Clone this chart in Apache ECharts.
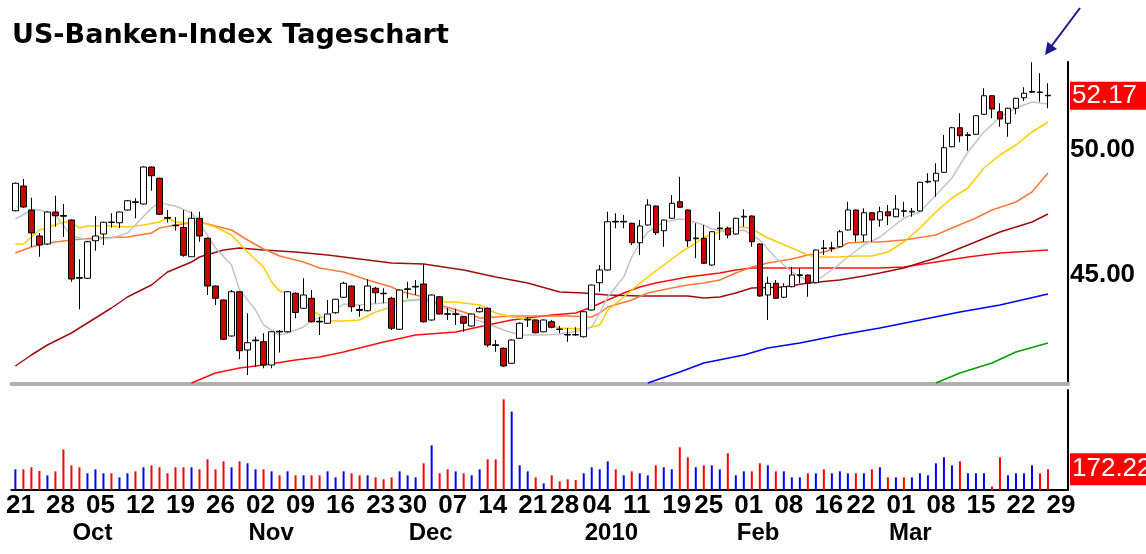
<!DOCTYPE html>
<html>
<head>
<meta charset="utf-8">
<script src="https://cdn.jsdelivr.net/npm/echarts@6/dist/echarts.min.js"></script>
<style>html,body{margin:0;padding:0;background:#fff;}#c{width:1146px;height:554px;}</style>
</head>
<body>
<div id="c"></div>
<script>
const dates = [
'2009-09-21','2009-09-22','2009-09-23','2009-09-24','2009-09-25','2009-09-28','2009-09-29','2009-09-30',
'2009-10-01','2009-10-02','2009-10-05','2009-10-06','2009-10-07','2009-10-08','2009-10-09','2009-10-12','2009-10-13','2009-10-14','2009-10-15','2009-10-16','2009-10-19','2009-10-20','2009-10-21','2009-10-22','2009-10-23','2009-10-26','2009-10-27','2009-10-28','2009-10-29','2009-10-30',
'2009-11-02','2009-11-03','2009-11-04','2009-11-05','2009-11-06','2009-11-09','2009-11-10','2009-11-11','2009-11-12','2009-11-13','2009-11-16','2009-11-17','2009-11-18','2009-11-19','2009-11-20','2009-11-23','2009-11-24','2009-11-25','2009-11-27','2009-11-30',
'2009-12-01','2009-12-02','2009-12-03','2009-12-04','2009-12-07','2009-12-08','2009-12-09','2009-12-10','2009-12-11','2009-12-14','2009-12-15','2009-12-16','2009-12-17','2009-12-18','2009-12-21','2009-12-22','2009-12-23','2009-12-24','2009-12-28','2009-12-29','2009-12-30','2009-12-31',
'2010-01-04','2010-01-05','2010-01-06','2010-01-07','2010-01-08','2010-01-11','2010-01-12','2010-01-13','2010-01-14','2010-01-15','2010-01-19','2010-01-20','2010-01-21','2010-01-22','2010-01-25','2010-01-26','2010-01-27','2010-01-28','2010-01-29',
'2010-02-01','2010-02-02','2010-02-03','2010-02-04','2010-02-05','2010-02-08','2010-02-09','2010-02-10','2010-02-11','2010-02-12','2010-02-16','2010-02-17','2010-02-18','2010-02-19','2010-02-22','2010-02-23','2010-02-24','2010-02-25','2010-02-26',
'2010-03-01','2010-03-02','2010-03-03','2010-03-04','2010-03-05','2010-03-08','2010-03-09','2010-03-10','2010-03-11','2010-03-12','2010-03-15','2010-03-16','2010-03-17','2010-03-18','2010-03-19','2010-03-22','2010-03-23','2010-03-24','2010-03-25','2010-03-26','2010-03-29','2010-03-30'
];

const opens = [47.57,48.56,47.6,46.56,46.24,47.52,47.38,47.2,44.9,44.87,
46.37,46.64,47.12,47.09,47.6,47.93,47.84,49.32,48.87,47.3,
46.99,46.9,45.73,47.27,46.47,44.56,44.0,42.56,44.33,42.0,
42.37,42.33,41.4,42.75,42.73,44.27,43.67,44.07,43.15,43.07,
43.49,44.11,44.56,43.62,43.57,44.47,44.27,44.07,42.83,44.42,
44.52,44.64,43.2,44.13,43.45,43.42,43.33,42.96,43.53,43.67,
42.21,42.07,41.47,42.47,43.2,43.2,42.73,43.13,42.84,42.62,
42.62,42.53,43.6,44.69,45.2,47.15,47.12,47.07,46.29,47.0,
47.76,46.77,47.27,47.93,47.6,46.45,46.47,45.4,46.85,46.87,
46.64,47.32,47.36,46.24,44.2,44.67,44.11,44.53,44.98,45.0,
44.69,46.08,46.06,46.13,46.8,47.6,46.6,47.49,47.2,47.53,
47.33,47.57,47.52,47.56,48.72,48.76,49.11,50.13,50.89,50.58,
50.63,51.43,52.17,51.53,51.07,51.67,52.09,52.31,52.32,52.19];

const closes = [48.67,47.72,46.68,46.2,47.52,47.37,47.35,44.84,44.87,46.33,
46.56,47.11,47.1,47.52,47.97,47.9,49.32,48.97,47.43,47.27,
46.97,45.79,47.27,46.56,44.56,44.07,42.43,44.33,41.97,42.29,
42.4,41.4,42.73,42.72,44.33,43.5,44.2,43.13,43.12,43.44,
44.03,44.67,43.73,43.58,44.56,44.29,44.25,42.87,44.4,44.45,
44.55,43.13,44.2,43.44,43.43,43.45,43.07,43.44,43.67,42.2,
42.18,41.36,42.4,43.07,43.23,42.69,43.2,42.91,42.82,42.6,
42.6,43.53,44.6,45.2,47.13,47.12,47.15,46.29,46.96,47.8,
46.69,47.2,47.87,47.71,46.37,46.48,45.47,46.73,46.88,46.6,
47.27,47.35,46.33,44.16,44.67,44.07,44.53,45.0,45.01,44.67,
46.0,46.06,46.09,46.73,47.6,46.6,47.49,47.2,47.53,47.37,
47.64,47.55,47.55,48.71,48.75,49.07,50.09,50.89,50.57,50.61,
51.37,52.17,51.64,51.24,51.67,52.07,52.27,52.34,52.3,52.17];

const lows = [47.55,47.68,46.12,45.73,46.2,46.93,46.52,44.73,43.63,44.85,
45.97,46.2,46.9,46.88,47.58,47.27,47.82,48.37,47.4,47.1,
46.77,45.73,45.72,46.33,44.2,43.8,42.4,42.54,41.63,41.0,
41.33,41.27,41.27,41.9,42.7,43.27,43.65,43.1,42.6,43.05,
43.45,44.09,43.53,43.33,43.55,43.87,43.87,42.8,42.8,44.07,
44.2,43.1,43.18,43.42,43.2,43.0,42.73,42.94,43.5,42.12,
41.93,41.33,41.45,42.45,42.92,42.67,42.71,42.87,42.67,42.33,
42.58,42.5,43.58,44.33,45.18,46.87,46.87,46.2,45.8,46.98,
46.6,46.13,47.25,47.69,46.13,45.67,45.45,45.38,46.4,46.47,
46.62,46.93,46.13,44.14,43.2,44.05,44.07,44.51,44.67,44.13,
44.67,45.8,45.93,46.11,46.78,46.33,46.33,46.33,46.93,47.0,
47.31,47.33,47.33,47.54,48.67,48.13,49.09,50.11,50.31,49.97,
50.61,51.41,51.27,50.93,50.53,51.43,51.96,52.29,51.93,51.67];

const highs = [48.7,48.84,48.09,46.68,47.55,48.17,47.84,47.22,45.63,46.35,
47.36,47.13,47.47,47.54,48.0,48.07,49.34,49.34,48.9,47.6,
47.32,47.6,47.53,47.53,46.5,44.58,44.02,44.4,44.35,43.47,
42.53,42.67,42.75,42.8,44.35,44.3,44.87,44.4,43.33,44.0,
44.05,44.73,44.58,43.8,44.83,44.53,44.47,44.13,44.43,44.73,
44.8,45.44,44.22,44.15,43.68,43.65,43.35,43.46,43.73,43.7,
42.4,42.1,42.43,43.1,43.32,43.22,43.22,43.2,42.96,42.88,
42.91,43.55,44.62,45.4,47.53,47.47,47.4,47.09,47.2,48.03,
47.78,47.22,48.2,48.93,47.62,47.07,47.0,46.75,47.53,46.93,
47.29,47.63,47.38,46.26,44.93,44.8,44.67,45.33,45.27,45.02,
46.02,46.4,46.33,46.8,47.93,47.62,47.67,47.51,47.73,47.8,
48.2,47.93,47.68,48.73,49.07,49.47,50.6,50.93,51.47,50.71,
51.39,52.47,52.19,51.87,51.69,52.09,52.51,53.51,53.07,52.67];

const volumes = [172,172,189,158,122,155,338,205,189,139,
172,139,139,105,139,155,189,205,189,139,
189,189,189,172,255,172,238,189,238,222,
172,172,155,122,155,122,122,122,122,155,
105,155,139,122,122,105,89,105,155,122,
105,222,372,139,172,155,139,122,172,255,
255,754,652,205,155,105,55,122,72,89,
83,139,189,172,238,172,122,155,139,122,
205,189,172,355,272,189,205,205,172,305,
122,155,155,222,205,155,155,105,105,139,
139,172,139,155,139,139,139,172,189,105,
105,105,105,139,122,222,272,205,238,139,
139,139,28,272,122,139,139,205,139,172.22];

// moving average lines: [day index, value]
const maGray = [[0,47.24],[2,47.6],[3,47.6],[5,47.4],[7,46.56],[9,46.4],[12,46.48],[14,46.68],[15,47.0],[17,47.68],[18,47.88],[20,47.76],[22,47.48],[23,47.08],[25,46.08],[27,45.4],[28,44.4],[30,43.6],[31,43.0],[33,42.6],[34,42.68],[36,42.92],[37,43.2],[39,43.36],[40,43.6],[41,43.84],[43,43.8],[46,43.88],[48,43.96],[51,44.0],[53,43.76],[56,43.36],[58,43.16],[61,42.8],[63,42.6],[66,42.6],[68,42.64],[71,42.8],[72,42.92],[73,43.48],[74,44.12],[76,44.92],[77,45.72],[78,46.28],[79,46.72],[81,47.12],[83,47.24],[84,47.2],[86,47.0],[87,46.84],[89,46.72],[91,46.8],[93,46.4],[95,45.68],[97,45.12],[99,44.76],[100,44.76],[102,45.2],[104,45.72],[106,46.2],[108,46.52],[111,47.28],[113,47.52],[115,48.2],[117,48.88],[119,49.92],[121,50.72],[123,51.32],[125,51.68],[127,51.92],[129,51.84]];
const maYellow = [[0,46.24],[1,46.24],[2,46.52],[3,46.8],[6,47.12],[7,47.12],[8,46.88],[9,46.96],[12,46.96],[14,46.92],[16,47.0],[18,47.12],[19,47.28],[20,47.12],[22,47.08],[23,47.12],[25,46.92],[27,46.6],[29,45.92],[31,45.32],[32,44.72],[33,44.36],[34,44.28],[36,44.0],[37,43.6],[38,43.4],[39,43.16],[41,43.16],[43,43.2],[45,43.52],[47,43.72],[49,44.0],[51,44.04],[53,43.92],[55,43.92],[58,43.8],[60,43.48],[62,43.32],[65,43.2],[68,42.88],[71,42.84],[73,43.0],[74,43.6],[76,44.12],[77,44.4],[79,44.92],[81,45.4],[83,45.88],[85,46.28],[86,46.52],[88,46.72],[89,46.88],[91,46.92],[92,46.84],[94,46.48],[97,46.08],[99,45.8],[100,45.72],[103,45.72],[105,45.76],[107,45.76],[109,45.92],[111,46.32],[113,46.88],[115,47.52],[117,48.08],[119,48.48],[121,49.28],[123,49.8],[125,50.2],[127,50.72],[129,51.12]];
const maOrange = [[0,45.88],[2,46.12],[4,46.28],[7,46.4],[10,46.48],[14,46.52],[17,46.68],[18,46.88],[20,47.0],[23,47.12],[25,46.96],[27,46.8],[29,46.4],[31,46.04],[33,45.76],[36,45.52],[38,45.28],[41,45.12],[44,44.8],[47,44.52],[48,44.36],[51,44.12],[53,43.8],[56,43.52],[58,43.28],[60,43.32],[62,43.36],[66,43.36],[69,43.36],[72,43.32],[73,43.48],[74,43.72],[77,44.0],[79,44.28],[82,44.48],[84,44.6],[86,44.68],[88,44.8],[90,45.08],[92,45.32],[94,45.48],[97,45.64],[99,45.8],[101,45.92],[103,46.12],[104,46.28],[106,46.32],[108,46.32],[111,46.4],[115,46.6],[117,46.88],[120,47.28],[122,47.6],[125,47.92],[127,48.32],[129,49.08]];
const maMaroon = [[0,41.36],[2,41.8],[4,42.2],[7,42.68],[9,43.08],[12,43.68],[14,44.12],[17,44.6],[19,45.12],[22,45.52],[23,45.72],[26,46.0],[28,46.08],[31,46.0],[35,45.92],[39,45.8],[43,45.64],[47,45.48],[51,45.44],[56,45.2],[60,44.92],[64,44.68],[68,44.32],[71,44.28],[74,44.2],[78,44.16],[84,44.16],[86,44.08],[88,44.12],[90,44.28],[92,44.48],[96,44.52],[99,44.68],[103,44.8],[106,44.96],[108,45.08],[111,45.28],[115,45.68],[119,46.2],[123,46.72],[127,47.12],[129,47.44]];
const maRed = [[22,40.68],[25,41.08],[28,41.28],[31,41.4],[35,41.6],[38,41.72],[41,41.92],[43,42.08],[46,42.32],[50,42.6],[55,42.72],[59,43.0],[62,43.2],[65,43.32],[67,43.4],[70,43.48],[72,43.72],[74,44.0],[76,44.28],[78,44.52],[80,44.68],[82,44.8],[84,44.92],[88,45.08],[90,45.2],[92,45.28],[97,45.28],[103,45.28],[108,45.28],[111,45.32],[115,45.52],[119,45.72],[123,45.88],[127,45.96],[129,46.0]];
const maBlue = [[79,40.68],[83,41.12],[86,41.48],[91,41.8],[94,42.08],[98,42.28],[103,42.6],[108,42.88],[113,43.2],[118,43.52],[123,43.8],[129,44.24]];
const maGreen = [[115,40.68],[118,41.08],[122,41.48],[125,41.92],[129,42.28]];

const dayLabelIdx = [0,5,10,15,20,25,30,35,40,45,49,54,59,64,68,72,77,82,86,91,96,101,105,110,115,120,125,130];
const monthLabels = ['Oct','Nov','Dec','2010','Feb','Mar'];
const monthStartIdx = [8,30,50,72,91,110];
const priceTicks = [45, 50];

const lastClose = closes[closes.length - 1];
const lastVolume = volumes[volumes.length - 1];
const monthPos = monthStartIdx.map(i => i - 0.875);
const candleData = opens.map((o, i) => [o, closes[i], lows[i], highs[i]]);
const daySet = new Set(dayLabelIdx);

const numFont = 'Liberation Sans';
function maSeries(name, data, color) {
  return {name, type: 'line', xAxisIndex: 0, yAxisIndex: 0, data, symbol: 'none', z: 2,
    lineStyle: {color, width: 1.5}, silent: true};
}
function lastValueMark(value, pad) {
  return {symbol: 'none', silent: true, animation: false,
    lineStyle: {color: 'rgba(0,0,0,0)', width: 0},
    label: {show: true, position: 'end', distance: 2, formatter: () => value.toFixed(2),
      backgroundColor: '#ff0000', color: '#ffffff', fontFamily: numFont, fontSize: 26,
      padding: pad},
    data: [{yAxis: value}]};
}

const chart = echarts.init(document.getElementById('c'), null, {renderer: 'canvas'});
chart.setOption({
  animation: false,
  backgroundColor: '#fff',
  title: {text: 'US-Banken-Index Tageschart', left: 7, top: 17,
    textStyle: {fontFamily: 'DejaVu Sans', fontWeight: 'bold', fontSize: 27, color: '#000'}},
  grid: [
    {left: 11.4, right: 78, top: 62, height: 322},
    {left: 11.4, right: 78, top: 390, height: 100}
  ],
  xAxis: [
    {type: 'category', gridIndex: 0, data: dates, boundaryGap: true,
      axisLine: {show: true, onZero: false, lineStyle: {color: '#b0b0b0', width: 4}},
      axisTick: {show: false}, axisLabel: {show: false}, splitLine: {show: false}},
    {type: 'category', gridIndex: 1, data: dates, boundaryGap: true,
      axisLine: {show: true, onZero: false, lineStyle: {color: '#000', width: 2}},
      axisTick: {show: false}, splitLine: {show: false},
      axisLabel: {show: true, interval: (i) => daySet.has(i), formatter: (v) => v.slice(8),
        margin: 3, align: 'center', padding: [0, 0, 0, 10],
        fontFamily: numFont, fontWeight: 'bold', fontSize: 26, color: '#000'}},
    {type: 'value', gridIndex: 1, min: -0.5, max: 131.5, position: 'bottom',
      axisLine: {show: false, onZero: false}, axisTick: {show: false}, splitLine: {show: false},
      axisLabel: {show: true, customValues: monthPos, align: 'left', margin: 31,
        formatter: (v) => { const k = monthPos.findIndex(p => Math.abs(p - v) < 0.01); return k >= 0 ? monthLabels[k] : ''; },
        fontFamily: numFont, fontWeight: 'bold', fontSize: 24, color: '#000'}}
  ],
  yAxis: [
    {type: 'value', gridIndex: 0, position: 'right', min: 40.64, max: 53.52, scale: true,
      axisLine: {show: true, onZero: false, lineStyle: {color: '#000', width: 2}},
      axisTick: {show: false}, splitLine: {show: false},
      axisLabel: {show: true, customValues: priceTicks, formatter: (v) => v.toFixed(2), margin: 2,
        fontFamily: numFont, fontWeight: 'bold', fontSize: 26, color: '#000'}},
    {type: 'value', gridIndex: 1, position: 'right', min: 0, max: 832,
      axisLine: {show: true, onZero: false, lineStyle: {color: '#000', width: 2}},
      axisTick: {show: false}, splitLine: {show: false}, axisLabel: {show: false}}
  ],
  series: [
    maSeries('green', maGreen, '#00a000'),
    maSeries('blue', maBlue, '#0000ff'),
    maSeries('red', maRed, '#ff1010'),
    maSeries('maroon', maMaroon, '#9a1010'),
    maSeries('orange', maOrange, '#ff7a3a'),
    maSeries('yellow', maYellow, '#ffcc00'),
    maSeries('gray', maGray, '#c4c4c4'),
    {name: 'Kurs', type: 'candlestick', xAxisIndex: 0, yAxisIndex: 0, data: candleData, z: 3,
      barWidth: 6,
      itemStyle: {color: '#ffffff', color0: '#cc0000', borderColor: '#000', borderColor0: '#000', borderColorDoji: '#000', borderWidth: 1},
      markLine: lastValueMark(lastClose, [1, 10, 1, 2])},
    {name: 'Volumen', type: 'bar', xAxisIndex: 1, yAxisIndex: 1, data: volumes, barWidth: 2,
      itemStyle: {color: (p) => closes[p.dataIndex] >= opens[p.dataIndex] ? '#0000ff' : '#ff0000'},
      markLine: lastValueMark(lastVolume, [3, 10, 3, 2])}
  ],
  graphic: [
    {type: 'line', shape: {x1: 1080, y1: 8, x2: 1050, y2: 48}, style: {stroke: '#1a1a8c', lineWidth: 2}, silent: true},
    {type: 'polygon', shape: {points: [[1045, 55], [1057, 49], [1047.4, 41.8]]}, style: {fill: '#1a1a8c'}, silent: true}
  ]
});
</script>
</body>
</html>
